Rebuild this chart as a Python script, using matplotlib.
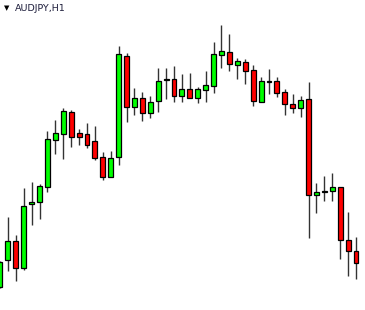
import numpy as np
import matplotlib
matplotlib.use('Agg')
import matplotlib.pyplot as plt

symbol = "AUDJPY,H1"

# hourly candles, left to right
opens = [80.13, 80.40, 80.59, 80.32, 80.96, 80.98, 81.13, 81.60, 81.66, 81.88,
         81.67, 81.66, 81.59, 81.43, 81.23, 81.43, 82.44, 81.93, 82.02, 81.87,
         81.99, 82.20, 82.21, 82.04, 82.11, 82.02, 82.10, 82.14, 82.45, 82.48,
         82.35, 82.38, 82.30, 81.98, 82.18, 82.19, 82.08, 81.96, 81.92, 82.01,
         81.05, 81.08, 81.09, 81.13, 80.60, 80.49]
highs = [80.39, 80.83, 80.65, 81.12, 81.18, 81.16, 81.69, 81.80, 81.92, 81.90,
         81.71, 81.77, 81.74, 81.48, 81.49, 82.54, 82.47, 82.12, 82.08, 82.04,
         82.32, 82.32, 82.34, 82.26, 82.27, 82.13, 82.29, 82.58, 82.75, 82.66,
         82.42, 82.41, 82.35, 82.23, 82.31, 82.23, 82.11, 82.06, 82.04, 82.18,
         81.17, 81.24, 81.27, 81.13, 80.88, 80.63]
lows = [80.12, 80.29, 80.19, 80.30, 80.75, 80.81, 81.08, 81.46, 81.41, 81.53,
        81.55, 81.52, 81.40, 81.20, 81.23, 81.35, 81.78, 81.85, 81.79, 81.82,
        81.88, 82.01, 81.98, 81.98, 82.02, 81.97, 81.98, 82.07, 82.32, 82.29,
        82.21, 82.16, 81.94, 81.98, 82.06, 82.03, 81.85, 81.87, 81.83, 80.62,
        80.87, 80.99, 80.99, 80.41, 80.24, 80.21]
closes = [80.38, 80.59, 80.32, 80.94, 80.98, 81.14, 81.61, 81.67, 81.89, 81.63,
          81.63, 81.55, 81.42, 81.23, 81.42, 82.46, 81.93, 82.02, 81.87, 81.98,
          82.19, 82.20, 82.04, 82.11, 82.02, 82.11, 82.15, 82.46, 82.49, 82.36,
          82.39, 82.29, 81.99, 82.19, 82.19, 82.07, 81.96, 81.92, 82.00, 81.05,
          81.08, 81.08, 81.13, 80.60, 80.49, 80.37]

o = np.array(opens)
h = np.array(highs)
l = np.array(lows)
c = np.array(closes)
idx = np.arange(len(o))

fig = plt.figure(figsize=(3.65, 3.10), dpi=100, facecolor='white')
ax = fig.add_axes([0, 0, 1, 1])
ax.set_facecolor('white')

# wicks
ax.vlines(idx, l, h, color='#333333', linewidth=1.0, zorder=1)

# bodies
up = c >= o
body_bottom = np.minimum(o, c)
body_height = np.maximum(np.abs(c - o), 0.008)
colors = np.where(up, '#00ff00', '#ff0000')
ax.bar(idx, body_height, bottom=body_bottom, width=0.62, color=colors,
       edgecolor='black', linewidth=0.9, zorder=2)

ax.set_xlim(0.0, 46.14)
ax.set_ylim(79.90, 83.00)
ax.axis('off')

fig.text(0.012, 0.975, '\u25bc', fontsize=5, color='black', va='center', ha='left')
fig.text(0.040, 0.974, symbol, fontsize=6.8, color='#1c1c3a', va='center', ha='left')

fig.savefig('out.png', dpi=100, facecolor='white')
